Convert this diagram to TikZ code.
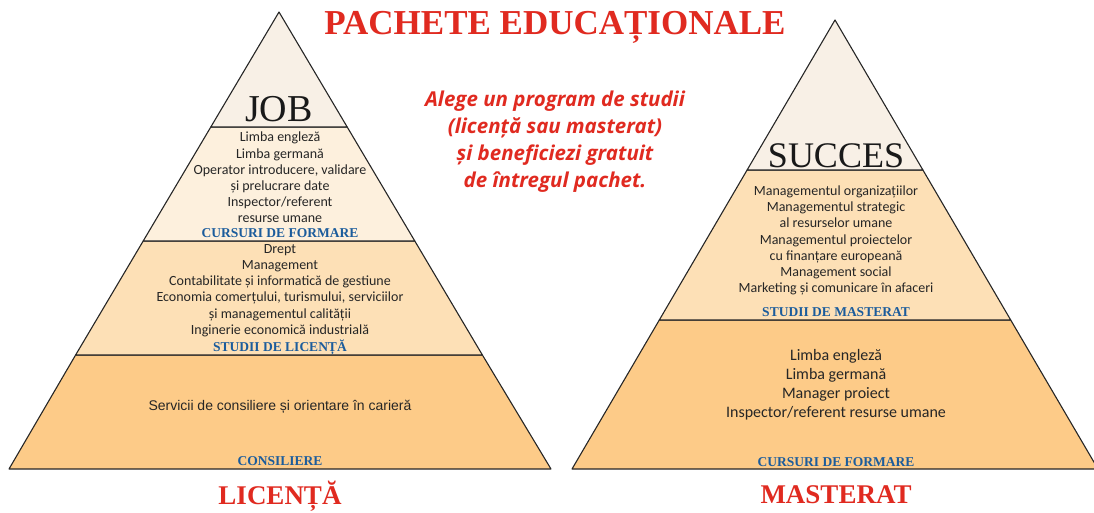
\documentclass[tikz,border=0pt]{standalone}
\usepackage{fontspec}
\setmainfont{Carlito}
\newfontfamily\headserif{Liberation Serif}
\newfontfamily\plainsans{Liberation Sans}
\newfontfamily\slogansans{Open Sans}
\definecolor{titlered}{HTML}{E02A20}
\definecolor{tagblue}{HTML}{1B5C9C}
\definecolor{capfill}{HTML}{F8F0E6}
\definecolor{bandlight}{HTML}{FDF0DD}
\definecolor{bandmid}{HTML}{FDE0B6}
\definecolor{banddeep}{HTML}{FDCB88}

\begin{document}
\begin{tikzpicture}[x=1pt, y=-1pt,
  band/.style={draw=black!85, line width=1.1pt, line join=round},
  body/.style={align=center, inner sep=0pt, text=black!85, font=\fontsize{14}{16.2}\selectfont},
  tag/.style={inner sep=0pt, anchor=base, text=tagblue, font=\headserif\bfseries\fontsize{13.5}{13.5}\selectfont},
  peak/.style={inner sep=0pt, anchor=base, text=black!90, font=\headserif\fontsize{38}{38}\selectfont},
  level/.style={inner sep=0pt, anchor=base, text=titlered, font=\headserif\bfseries\fontsize{27}{27}\selectfont}]
\useasboundingbox (0,0) rectangle (1094,512);

% licenta
\draw[band, fill=banddeep] (75.6,355) -- (482.4,355) -- (551,469) -- (9,469) -- cycle;
\draw[band, fill=bandmid] (143.2,241) -- (414.8,241) -- (482.4,355) -- (75.6,355) -- cycle;
\draw[band, fill=bandlight] (210.8,127) -- (347.2,127) -- (414.8,241) -- (143.2,241) -- cycle;
\draw[band, fill=capfill] (279,12) -- (347.2,127) -- (210.8,127) -- cycle;

\node[peak] (job) at (279,121) {JOB};
\node[body] (lcourses) at (280,177.5) {Limba engleză\\Limba germană\\Operator introducere, validare\\și prelucrare date\\Inspector/referent\\resurse umane};
\node[tag] (lcoursestag) at (280,237) {CURSURI DE FORMARE};
\node[body] (lstudies) at (280,290.5) {Drept\\Management\\Contabilitate și informatică de gestiune\\Economia comerțului, turismului, serviciilor\\și managementul calității\\Inginerie economică industrială};
\node[tag] (lstudiestag) at (280,351) {STUDII DE LICENȚĂ};
\node[inner sep=0pt, text=black!85, font=\plainsans\fontsize{14}{16}\selectfont] (lcounsel) at (280,407) {Servicii de consiliere și orientare în carieră};
\node[tag] (lcounseltag) at (280,465) {CONSILIERE};
\node[level] (licenta) at (280,504) {LICENȚĂ};

% masterat
\draw[band, fill=banddeep] (659.3,320) -- (1010.7,320) -- (1098,469) -- (572,469) -- cycle;
\draw[band, fill=bandmid] (747.1,170) -- (922.9,170) -- (1010.7,320) -- (659.3,320) -- cycle;
\draw[band, fill=capfill] (835,20) -- (922.9,170) -- (747.1,170) -- cycle;

\node[peak, font=\headserif\fontsize{36}{36}\selectfont] (succes) at (836,167) {SUCCES};
\node[body] (mstudies) at (836,240.5) {Managementul organizațiilor\\Managementul strategic\\al resurselor umane\\Managementul proiectelor\\cu finanțare europeană\\Management social\\Marketing și comunicare în afaceri};
\node[tag] (mstudiestag) at (836,316) {STUDII DE MASTERAT};
\node[body, font=\fontsize{16}{19}\selectfont] (mcourses) at (836,385) {Limba engleză\\Limba germană\\Manager proiect\\Inspector/referent resurse umane};
\node[tag] (mcoursestag) at (836,466) {CURSURI DE FORMARE};
\node[level] (masterat) at (836,503) {MASTERAT};

% titlu si mesaj
\node[inner sep=0pt, anchor=base, text=titlered, font=\headserif\bfseries\fontsize{35}{35}\selectfont] (title) at (555,34) {PACHETE EDUCAȚIONALE};
\node[align=center, inner sep=0pt, text=titlered, font=\slogansans\bfseries\itshape\fontsize{20.5}{27}\selectfont] (slogan) at (555,141.5) {Alege un program de studii\\(licență sau masterat)\\și beneficiezi gratuit\\de întregul pachet.};
\end{tikzpicture}
\end{document}
